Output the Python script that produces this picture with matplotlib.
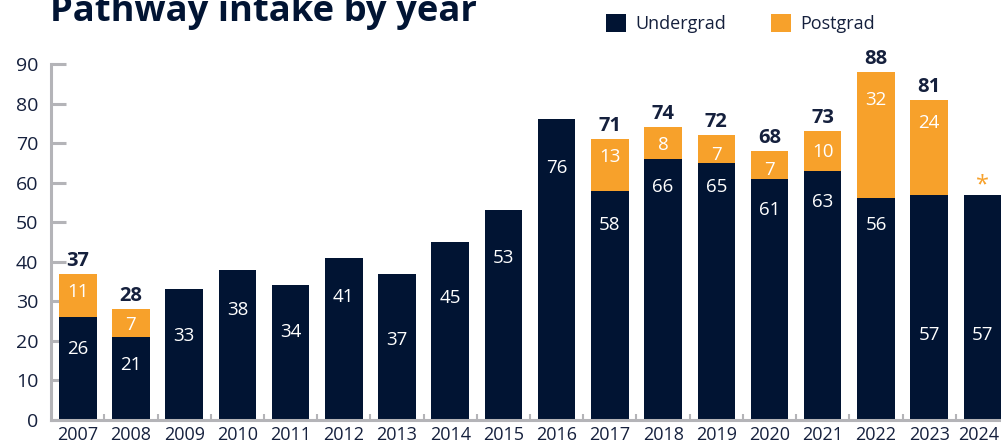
import matplotlib
matplotlib.use("Agg")
import matplotlib.pyplot as plt
import matplotlib.transforms as mtransforms
from matplotlib.patches import Patch
import numpy as np

# ---- data ----
years = ["2007", "2008", "2009", "2010", "2011", "2012", "2013", "2014", "2015",
         "2016", "2017", "2018", "2019", "2020", "2021", "2022", "2023", "2024"]
undergrad = [26, 21, 33, 38, 34, 41, 37, 45, 53, 76, 58, 66, 65, 61, 63, 56, 57, 57]
postgrad = [11, 7, 0, 0, 0, 0, 0, 0, 0, 0, 13, 8, 7, 7, 10, 32, 24, 0]
show_total = [True, True, False, False, False, False, False, False, False, False,
              True, True, True, True, True, True, True, False]
yticks = [0, 10, 20, 30, 40, 50, 60, 70, 80, 90]
title = "Pathway intake by year"

# label placement (data units)
ug_label_y = [17.9, 13.9, 21.2, 27.8, 22.2, 31.0, 20.2, 30.8, 41.0, 63.7,
              49.3, 58.9, 58.9, 53.0, 55.1, 49.3, 21.5, 21.5]
pg_label_y = [32.4, 24.0, None, None, None, None, None, None, None, None,
              66.5, 69.5, 67.0, 63.2, 67.7, 80.9, 75.1, None]

NAVY = "#011433"
ORANGE = "#f7a12b"
GREY = "#b4b4b8"
TXT = "#15203d"
FONT = "Open Sans"

plt.rcParams["font.family"] = [FONT, "DejaVu Sans"]

fig = plt.figure(figsize=(10.01, 4.46), dpi=100)
W, H = 1001, 446
ax = fig.add_axes([51 / W, 26 / H, 950 / W, 420 / H])

x = np.arange(len(years))
ug = np.array(undergrad)
pg = np.array(postgrad)
bw = 0.705
ax.bar(x, ug, width=bw, color=NAVY, zorder=2)
ax.bar(x, pg, width=bw, bottom=ug, color=ORANGE, zorder=2)

ax.set_ylim(0, 420 / 3.956)
ax.set_xlim(-0.503, 17.35)

for i in range(len(years)):
    ax.text(x[i], ug_label_y[i], str(undergrad[i]), ha="center", va="center",
            color="white", fontsize=13.5, zorder=3)
    if pg_label_y[i] is not None:
        ax.text(x[i], pg_label_y[i], str(postgrad[i]), ha="center", va="center",
                color="white", fontsize=13.5, zorder=3)
    if show_total[i]:
        tot = undergrad[i] + postgrad[i]
        ax.annotate(str(tot), (x[i], tot), xytext=(0, 2), textcoords="offset points",
                    ha="center", va="bottom", color=TXT, fontsize=14.5,
                    fontweight="bold")

# asterisk over last bar
ax.annotate("*", (x[-1], undergrad[-1]), xytext=(0, -2), textcoords="offset points",
            ha="center", va="bottom", color=ORANGE, fontsize=17)

# axes styling
for s in ["top", "right"]:
    ax.spines[s].set_visible(False)
ax.spines["left"].set_color(GREY)
ax.spines["left"].set_linewidth(2.2)
ax.spines["left"].set_bounds(0, 90)
ax.spines["bottom"].set_color(GREY)
ax.spines["bottom"].set_linewidth(2.2)

ax.set_yticks(yticks)
ax.set_yticklabels([str(v) for v in yticks])
ax.tick_params(axis="y", direction="in", length=11, width=2.2, color=GREY,
               labelsize=14, labelcolor=TXT, pad=9)

ax.set_xticks(x)
ax.set_xticklabels(years)
ax.tick_params(axis="x", which="major", length=0, labelsize=13,
               labelcolor=TXT, pad=4)
ax.set_xticks(x[:-1] + 0.5, minor=True)
ax.tick_params(axis="x", which="minor", direction="in", length=4, width=1.5,
               color=GREY)
# nudge the last year label inside the canvas, as in the reference
last = ax.get_xticklabels()[-1]
last.set_transform(last.get_transform() +
                   mtransforms.ScaledTranslation(-4 / 100, 0, fig.dpi_scale_trans))

# legend
handles = [Patch(facecolor=NAVY, edgecolor="none", label="Undergrad"),
           Patch(facecolor=ORANGE, edgecolor="none", label="Postgrad")]
fig.legend(handles=handles, loc="upper left", bbox_to_anchor=(601 / W, 1 - 9 / H),
           ncol=2, frameon=False, fontsize=13, handlelength=1.1, handleheight=1.1,
           handletextpad=0.5, columnspacing=2.5, labelcolor=TXT,
           borderaxespad=0, borderpad=0.3)

# title (cut at top as in reference)
fig.text(50 / W, 1 - 21 / H, title, ha="left", va="baseline", fontsize=26.2,
         fontweight="bold", color=NAVY)

fig.savefig("out.png", dpi=100)
